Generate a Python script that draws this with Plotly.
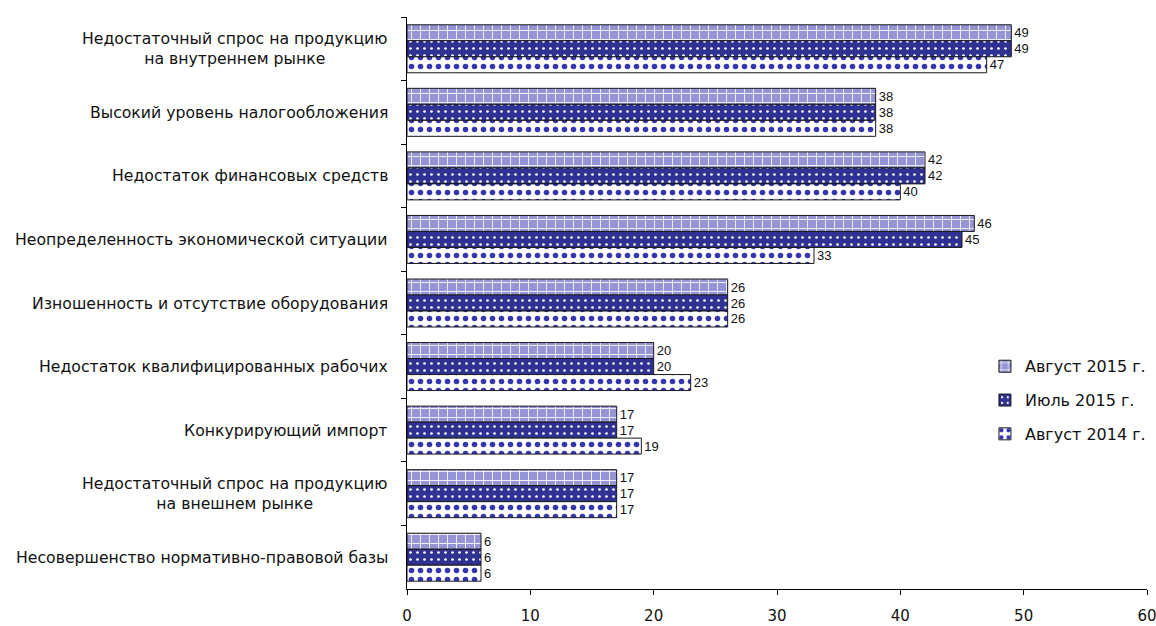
import plotly.graph_objects as go

# Factors limiting production (share of respondents, %)
categories = [
    "Недостаточный спрос на продукцию<br>на внутреннем рынке",
    "Высокий уровень налогообложения",
    "Недостаток финансовых средств",
    "Неопределенность экономической ситуации",
    "Изношенность и отсутствие оборудования",
    "Недостаток квалифицированных рабочих",
    "Конкурирующий импорт",
    "Недостаточный спрос на продукцию<br>на внешнем рынке",
    "Несовершенство нормативно-правовой базы",
]
series_names = ["Август 2015 г.", "Июль 2015 г.", "Август 2014 г."]
aug_2015 = [49, 38, 42, 46, 26, 20, 17, 17, 6]
jul_2015 = [49, 38, 42, 45, 26, 20, 17, 17, 6]
aug_2014 = [47, 38, 40, 33, 26, 23, 19, 17, 6]
x_ticks = [0, 10, 20, 30, 40, 50, 60]

label_font = "DejaVu Sans"

styles = [
    dict(bg="#9494d6", fg="white", shape="+", size=9, solidity=0.18),
    dict(bg="#2f3193", fg="white", shape=".", size=7, solidity=0.12),
    dict(bg="white", fg="#3535b0", shape=".", size=9, solidity=0.3),
]

fig = go.Figure()
for name, vals, st in zip(series_names, [aug_2015, jul_2015, aug_2014], styles):
    fig.add_trace(go.Bar(
        y=categories,
        x=vals,
        name=name,
        orientation="h",
        legendgroup=name,
        text=[str(v) for v in vals],
        textposition="outside",
        textfont=dict(family="Liberation Sans", size=13, color="#111"),
        cliponaxis=False,
        marker=dict(
            color=st["bg"],
            line=dict(color="#1a1a1a", width=1),
            pattern=dict(shape=st["shape"], fgcolor=st["fg"], bgcolor=st["bg"],
                         size=st["size"], solidity=st["solidity"], fillmode="replace"),
        ),
    ))

# Category labels, centred line by line to the left of the axis
for cat in categories:
    fig.add_annotation(
        x=0, xref="paper", y=cat, yref="y",
        text=cat, showarrow=False, xanchor="right", xshift=-17,
        align="center", font=dict(family=label_font, size=15.7, color="#111"),
    )

fig.update_layout(
    width=1156, height=626,
    margin=dict(l=407, r=9, t=17, b=37, autoexpand=False),
    paper_bgcolor="white", plot_bgcolor="white",
    barmode="group", bargap=0.245, bargroupgap=0,
    showlegend=True,
    legend=dict(x=0.781, y=0.419, xanchor="left", yanchor="top",
                font=dict(family=label_font, size=16, color="#111"),
                tracegroupgap=10, bgcolor="rgba(0,0,0,0)"),
    xaxis=dict(range=[0, 60], tickvals=x_ticks, showgrid=False, zeroline=False,
               automargin=False, ticklabeloverflow="allow",
               showline=True, linecolor="black", linewidth=1,
               ticks="outside", ticklen=5, tickcolor="black", ticklabelstandoff=8,
               tickfont=dict(family=label_font, size=15, color="#111")),
    yaxis=dict(autorange="reversed", showgrid=False, showticklabels=False,
               automargin=False,
               showline=True, linecolor="black", linewidth=1,
               ticks="outside", ticklen=5, tickcolor="black", tickson="boundaries"),
)

fig.write_html("out.html")
